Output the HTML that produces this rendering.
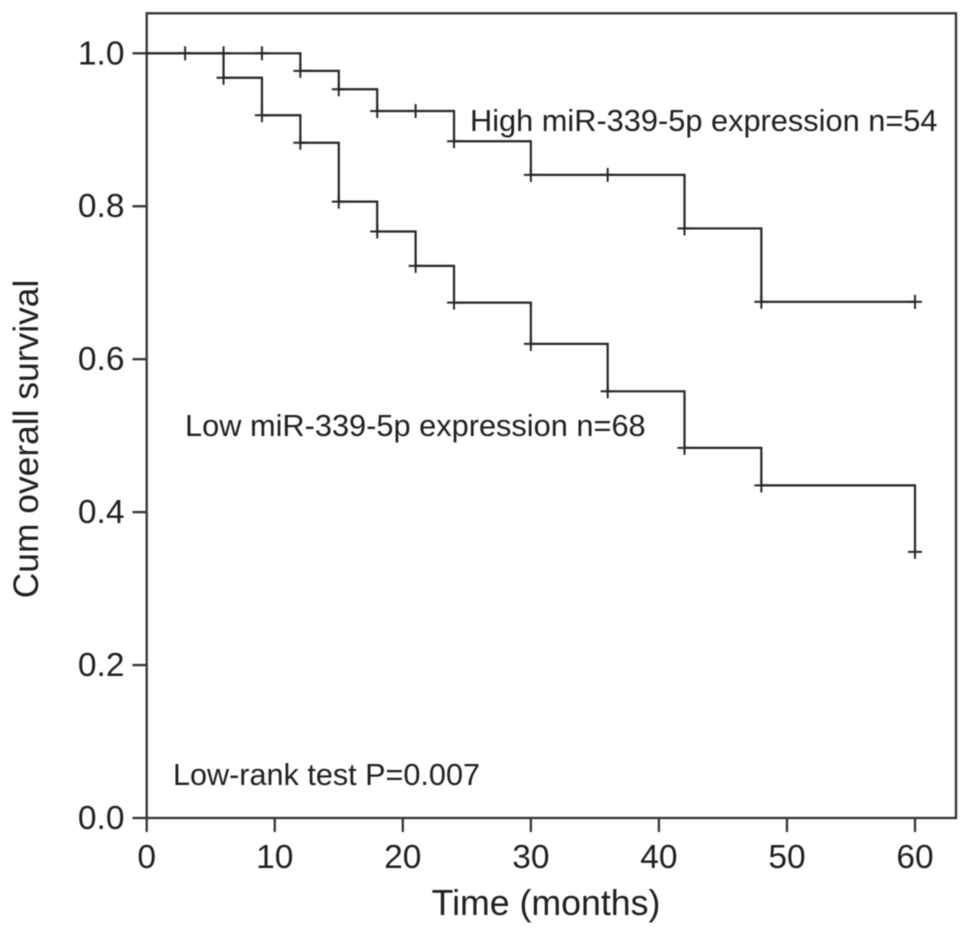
<!DOCTYPE html>
<html lang="en">
<head>
<meta charset="utf-8">
<title>Cum overall survival by miR-339-5p expression</title>
<style>
html,body{margin:0;padding:0;background:#fff;width:969px;height:935px;overflow:hidden}
svg{display:block;filter:blur(0.45px)}
text{font-family:"Liberation Sans",Arial,sans-serif;fill:#1f1f1f}
.line{fill:none;stroke:#262626;stroke-width:2.2}
.axis{stroke:#333;stroke-width:2.3;fill:none}
.mark{stroke:#262626;stroke-width:2}
</style>
</head>
<body>
<svg id="chart" xmlns="http://www.w3.org/2000/svg" width="969" height="935" viewBox="0 0 969 935">
  <rect x="0" y="0" width="969" height="935" fill="#fff"/>
  <rect class="axis" x="146.7" y="13.3" width="809.3" height="804.7"/>
  <g id="x-axis"></g>
  <g id="y-axis"></g>
  <g id="series"></g>
  <text x="546" y="915" font-size="35.7" text-anchor="middle">Time (months)</text>
  <text transform="translate(38,439) rotate(-90)" font-size="35.4" text-anchor="middle">Cum overall survival</text>
  <text x="470" y="131" font-size="30.75">High miR-339-5p expression n=54</text>
  <text x="185" y="436" font-size="30.75">Low miR-339-5p expression n=68</text>
  <text x="173" y="785" font-size="30.6">Low-rank test P=0.007</text>
</svg>
<script>
const xTicks = [0, 10, 20, 30, 40, 50, 60];
const yTicks = ["0.0", "0.2", "0.4", "0.6", "0.8", "1.0"];
const highTimes = [0, 12, 15, 18, 24, 30, 42, 48];
const highSurvival = [1, 0.977, 0.953, 0.9245, 0.885, 0.841, 0.771, 0.675];
const highCensored = [3, 6, 9, 12, 15, 18, 21, 24, 30, 36, 42, 48, 60];
const highEnd = 60;
const lowTimes = [0, 6, 9, 12, 15, 18, 21, 24, 30, 36, 42, 48, 60];
const lowSurvival = [1, 0.968, 0.919, 0.883, 0.806, 0.767, 0.722, 0.674, 0.62, 0.558, 0.484, 0.435, 0.348];
const lowCensored = [6, 9, 12, 15, 18, 21, 24, 30, 36, 42, 48, 60];
const lowEnd = 60;

const NS = "http://www.w3.org/2000/svg";
function xScale(t) { return 146.7 + t * 12.805; }
function yScale(s) { return 818 - s * 764.7; }
function make(tag, attrs, parent) {
  const el = document.createElementNS(NS, tag);
  for (const k in attrs) el.setAttribute(k, attrs[k]);
  parent.appendChild(el);
  return el;
}
function survivalAt(times, values, t) {
  let v = values[0];
  for (let i = 0; i < times.length; i++) { if (times[i] <= t) v = values[i]; }
  return v;
}

const xAxis = document.getElementById("x-axis");
xTicks.forEach(function (t) {
  const tick = make("line", {x1: xScale(t), x2: xScale(t), y1: 818, y2: 832, class: "axis"}, xAxis);
  
  
  const label = make("text", {x: xScale(t), y: 868, "font-size": 33.5, "text-anchor": "middle"}, xAxis);
  label.textContent = String(t);
  
  
});

const yAxis = document.getElementById("y-axis");
yTicks.forEach(function (t) {
  const v = parseFloat(t);
  const tick = make("line", {x1: 132.5, x2: 146.7, y1: yScale(v), y2: yScale(v), class: "axis"}, yAxis);
  
  
  const label = make("text", {x: 124.5, y: yScale(v) + 11, "font-size": 33.5, "text-anchor": "end"}, yAxis);
  label.textContent = t;
  
  
});

function stepPath(times, values, end) {
  let d = "M" + xScale(times[0]) + " " + yScale(values[0]);
  for (let i = 1; i < times.length; i++) {
    d += "H" + xScale(times[i]) + "V" + yScale(values[i]);
  }
  if (times[times.length - 1] < end) d += "H" + xScale(end);
  return d;
}

const seriesGroup = document.getElementById("series");
const highLine = make("path", {d: stepPath(highTimes, highSurvival, highEnd), class: "line"}, seriesGroup);


const lowLine = make("path", {d: stepPath(lowTimes, lowSurvival, lowEnd), class: "line"}, seriesGroup);



function drawCensorMark(t, s, hasArm) {
  const cx = xScale(t), cy = yScale(s);
  const v = make("line", {x1: cx, x2: cx, y1: cy - 7, y2: cy + 7, class: "mark"}, seriesGroup);
  
  
  if (hasArm) {
    const h = make("line", {x1: cx - 7, x2: cx + 7, y1: cy, y2: cy, class: "mark"}, seriesGroup);
    
    
  }
}
highCensored.forEach(function (t) {
  drawCensorMark(t, survivalAt(highTimes, highSurvival, t), true);
});
lowCensored.forEach(function (t) {
  drawCensorMark(t, survivalAt(lowTimes, lowSurvival, t), true);
});
</script>
</body>
</html>
